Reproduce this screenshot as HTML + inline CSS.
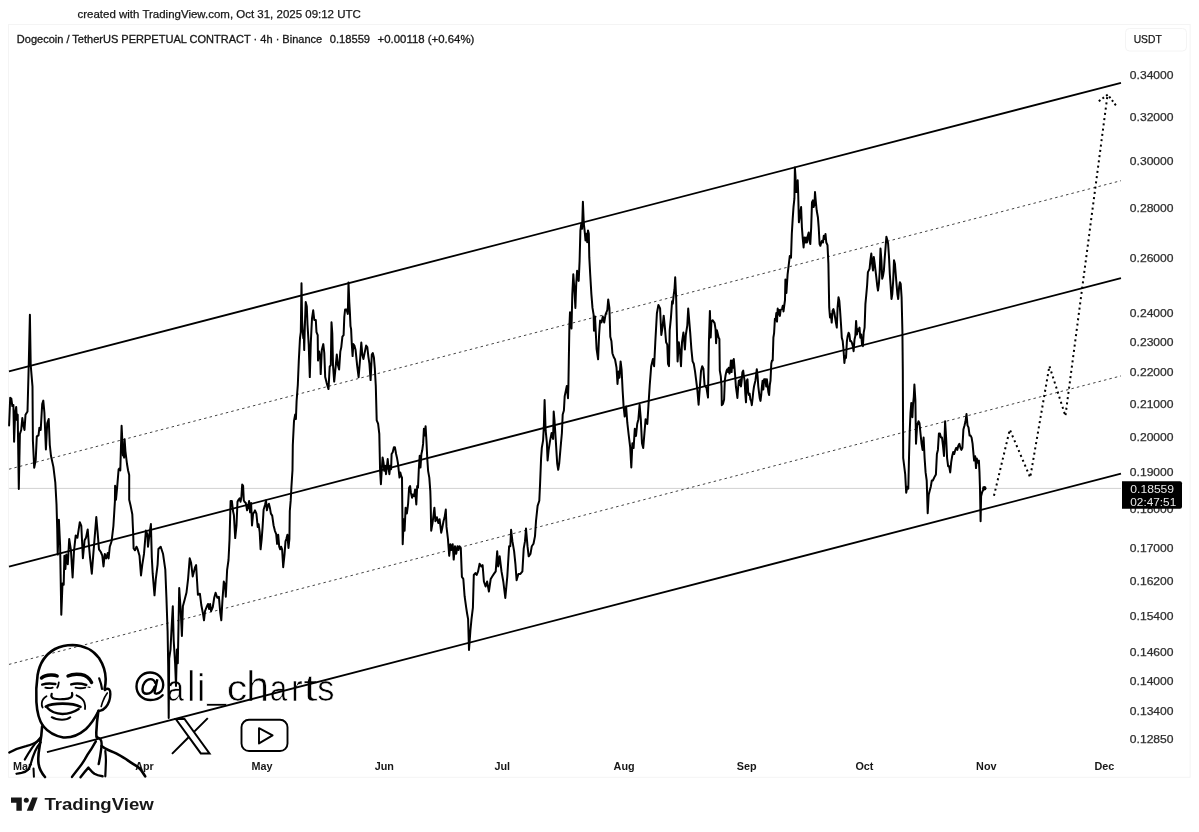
<!DOCTYPE html>
<html><head><meta charset="utf-8"><style>
html,body{margin:0;padding:0;background:#ffffff;width:1199px;height:832px;overflow:hidden}
svg{display:block;filter:grayscale(1)}
text{font-family:"Liberation Sans",sans-serif}
</style></head><body>
<svg width="1199" height="832" viewBox="0 0 1199 832">
<rect x="0" y="0" width="1199" height="832" fill="#ffffff"/>
<text x="77.5" y="18.3" font-size="11.3" fill="#131722" stroke="#131722" stroke-width="0.25" textLength="283.3" lengthAdjust="spacingAndGlyphs">created with TradingView.com, Oct 31, 2025 09:12 UTC</text>
<rect x="8.5" y="24.5" width="1181.6" height="752.8" fill="none" stroke="#f4f4f4" stroke-width="1"/>
<text x="16.8" y="42.8" font-size="10.9" fill="#131722" stroke="#131722" stroke-width="0.3" textLength="305.4" lengthAdjust="spacingAndGlyphs">Dogecoin / TetherUS PERPETUAL CONTRACT · 4h · Binance</text>
<text x="329.7" y="42.8" font-size="10.9" fill="#131722" stroke="#131722" stroke-width="0.3" textLength="40.4" lengthAdjust="spacingAndGlyphs">0.18559</text>
<text x="377.6" y="42.8" font-size="10.9" fill="#131722" stroke="#131722" stroke-width="0.3" textLength="96.8" lengthAdjust="spacingAndGlyphs">+0.00118 (+0.64%)</text>
<rect x="1125.5" y="28.5" width="61" height="22.5" rx="4" fill="#ffffff" stroke="#f4f4f4" stroke-width="1"/>
<text x="1133.7" y="43.3" font-size="11" fill="#131722" stroke="#131722" stroke-width="0.25" textLength="28" lengthAdjust="spacingAndGlyphs">USDT</text>
<text x="1129.8" y="79.1" font-size="10.9" fill="#2a2e39" stroke="#2a2e39" stroke-width="0.25" textLength="43.8" lengthAdjust="spacingAndGlyphs">0.34000</text>
<text x="1129.8" y="120.5" font-size="10.9" fill="#2a2e39" stroke="#2a2e39" stroke-width="0.25" textLength="43.8" lengthAdjust="spacingAndGlyphs">0.32000</text>
<text x="1129.8" y="164.5" font-size="10.9" fill="#2a2e39" stroke="#2a2e39" stroke-width="0.25" textLength="43.8" lengthAdjust="spacingAndGlyphs">0.30000</text>
<text x="1129.8" y="211.7" font-size="10.9" fill="#2a2e39" stroke="#2a2e39" stroke-width="0.25" textLength="43.8" lengthAdjust="spacingAndGlyphs">0.28000</text>
<text x="1129.8" y="262.2" font-size="10.9" fill="#2a2e39" stroke="#2a2e39" stroke-width="0.25" textLength="43.8" lengthAdjust="spacingAndGlyphs">0.26000</text>
<text x="1129.8" y="316.9" font-size="10.9" fill="#2a2e39" stroke="#2a2e39" stroke-width="0.25" textLength="43.8" lengthAdjust="spacingAndGlyphs">0.24000</text>
<text x="1129.8" y="345.9" font-size="10.9" fill="#2a2e39" stroke="#2a2e39" stroke-width="0.25" textLength="43.8" lengthAdjust="spacingAndGlyphs">0.23000</text>
<text x="1129.8" y="376.3" font-size="10.9" fill="#2a2e39" stroke="#2a2e39" stroke-width="0.25" textLength="43.8" lengthAdjust="spacingAndGlyphs">0.22000</text>
<text x="1129.8" y="408.1" font-size="10.9" fill="#2a2e39" stroke="#2a2e39" stroke-width="0.25" textLength="43.8" lengthAdjust="spacingAndGlyphs">0.21000</text>
<text x="1129.8" y="441.4" font-size="10.9" fill="#2a2e39" stroke="#2a2e39" stroke-width="0.25" textLength="43.8" lengthAdjust="spacingAndGlyphs">0.20000</text>
<text x="1129.8" y="476.4" font-size="10.9" fill="#2a2e39" stroke="#2a2e39" stroke-width="0.25" textLength="43.8" lengthAdjust="spacingAndGlyphs">0.19000</text>
<text x="1129.8" y="513.3" font-size="10.9" fill="#2a2e39" stroke="#2a2e39" stroke-width="0.25" textLength="43.8" lengthAdjust="spacingAndGlyphs">0.18000</text>
<text x="1129.8" y="552.3" font-size="10.9" fill="#2a2e39" stroke="#2a2e39" stroke-width="0.25" textLength="43.8" lengthAdjust="spacingAndGlyphs">0.17000</text>
<text x="1129.8" y="585.2" font-size="10.9" fill="#2a2e39" stroke="#2a2e39" stroke-width="0.25" textLength="43.8" lengthAdjust="spacingAndGlyphs">0.16200</text>
<text x="1129.8" y="619.8" font-size="10.9" fill="#2a2e39" stroke="#2a2e39" stroke-width="0.25" textLength="43.8" lengthAdjust="spacingAndGlyphs">0.15400</text>
<text x="1129.8" y="656.2" font-size="10.9" fill="#2a2e39" stroke="#2a2e39" stroke-width="0.25" textLength="43.8" lengthAdjust="spacingAndGlyphs">0.14600</text>
<text x="1129.8" y="684.9" font-size="10.9" fill="#2a2e39" stroke="#2a2e39" stroke-width="0.25" textLength="43.8" lengthAdjust="spacingAndGlyphs">0.14000</text>
<text x="1129.8" y="714.8" font-size="10.9" fill="#2a2e39" stroke="#2a2e39" stroke-width="0.25" textLength="43.8" lengthAdjust="spacingAndGlyphs">0.13400</text>
<text x="1129.8" y="743.4" font-size="10.9" fill="#2a2e39" stroke="#2a2e39" stroke-width="0.25" textLength="43.8" lengthAdjust="spacingAndGlyphs">0.12850</text>
<text x="22.5" y="769.6" font-size="10.8" font-weight="bold" fill="#131722" text-anchor="middle">Mar</text>
<text x="144.5" y="769.6" font-size="10.8" font-weight="bold" fill="#131722" text-anchor="middle">Apr</text>
<text x="262" y="769.6" font-size="10.8" font-weight="bold" fill="#131722" text-anchor="middle">May</text>
<text x="384.25" y="769.6" font-size="10.8" font-weight="bold" fill="#131722" text-anchor="middle">Jun</text>
<text x="502.25" y="769.6" font-size="10.8" font-weight="bold" fill="#131722" text-anchor="middle">Jul</text>
<text x="624.1" y="769.6" font-size="10.8" font-weight="bold" fill="#131722" text-anchor="middle">Aug</text>
<text x="746.6" y="769.6" font-size="10.8" font-weight="bold" fill="#131722" text-anchor="middle">Sep</text>
<text x="864.4" y="769.6" font-size="10.8" font-weight="bold" fill="#131722" text-anchor="middle">Oct</text>
<text x="986.3" y="769.6" font-size="10.8" font-weight="bold" fill="#131722" text-anchor="middle">Nov</text>
<text x="1104.3" y="769.6" font-size="10.8" font-weight="bold" fill="#131722" text-anchor="middle">Dec</text>
<g fill="#000" stroke="#fff" stroke-width="0.7" font-size="41.5">
<text transform="matrix(0.743 0 0 0.900 166.71 701.00)">a</text>
<text transform="matrix(0.875 0 0 1.023 187.28 700.80)">l</text>
<text transform="matrix(0.950 0 0 0.940 196.75 700.80)">i</text>
<text transform="matrix(0.820 0 0 1.000 207.22 697.90)">_</text>
<text transform="matrix(0.988 0 0 0.900 226.82 701.00)">c</text>
<text transform="matrix(0.988 0 0 1.023 246.14 700.80)">h</text>
<text transform="matrix(0.757 0 0 0.900 269.79 701.00)">a</text>
<text transform="matrix(0.840 0 0 0.891 290.98 700.80)">r</text>
<text transform="matrix(1.250 0 0 0.893 303.15 701.00)">t</text>
<text transform="matrix(0.829 0 0 0.900 317.14 701.00)">s</text>
</g>
<g fill="none" stroke="#000" stroke-width="2.4" stroke-linecap="round"><path d="M162.6 695.2 C159.5 698.5 155.3 700 150.5 700 C142.5 700 136.5 694 136.5 686.5 C136.5 678.5 142.5 672.5 150 672.5 C157.5 672.5 163.2 678 163.2 685 C163.2 689.5 160.5 693 156.8 693.6"/><path d="M155.4 683 C154.5 680.5 152.6 679.1 150.4 679.1 C146 679.1 142.5 684 142.5 689 C142.5 692 144.3 693.8 146.8 693.8 C150.3 693.8 153.2 690.6 154.6 686.8"/><path d="M157.3 679.3 L154.7 691.8 C154.5 693 155 693.8 156.6 693.6" stroke-linecap="butt"/></g>
<line x1="9" y1="488.4" x2="1121" y2="488.4" stroke="#d2d2d2" stroke-width="1"/>
<line x1="9" y1="371.3" x2="1121" y2="82.8" stroke="#000" stroke-width="1.8"/>
<line x1="9" y1="469.2" x2="1121" y2="180.7" stroke="#444" stroke-width="1.0" stroke-dasharray="2.5 3.1"/>
<line x1="9" y1="566.7" x2="1121" y2="278.2" stroke="#000" stroke-width="1.8"/>
<line x1="9" y1="664.4" x2="1121" y2="375.9" stroke="#444" stroke-width="1.0" stroke-dasharray="2.5 3.1"/>
<line x1="47" y1="752.2" x2="1121" y2="473.6" stroke="#000" stroke-width="1.8"/>
<path d="M9.1 425.5 L10.2 397.8 L11.3 398.5 L12.3 406 L13.4 405 L14.1 441.8 L15.2 412.6 L16.2 407 L16.9 420 L17.7 414.7 L18.8 489 L19.9 434 L21.2 430 L22.3 418 L23.4 425.5 L24.5 430 L25.5 414.7 L27.5 411.5 L28.8 362.8 L29.9 314.7 L30.7 365 L32.5 386.6 L32.9 440.7 L34.2 467.7 L35.7 460 L36.8 436.4 L38.5 435.3 L39.4 427.7 L40.7 430 L42.2 404 L43.3 400.6 L44.4 412.6 L45.9 449.4 L47.2 423.4 L48.7 419 L49.8 445 L51 456 L53.4 466.9 L55.3 482.5 L56.5 504 L57.2 528 L57.7 554.6 L58.9 519.8 L60.1 545 L61.3 614.7 L62.5 583.5 L63.7 584.7 L64.4 555.8 L65.4 569 L66.3 554.6 L67.8 564.2 L69.2 539 L70.9 549.8 L72.6 577.5 L74 551 L75.7 535.4 L77.4 537.8 L79.8 522.2 L81.3 525.8 L82.9 558.2 L84.6 540.2 L86 537.8 L87.7 529.4 L88.9 545 L90.1 558.2 L91.8 573.7 L93.2 555.7 L94.5 539.5 L96.3 517 L97.6 532.3 L99 549.4 L100.8 552 L102.3 555.7 L103.5 566.5 L104.8 553.9 L106.2 558.4 L107.7 553 L108.6 558.4 L109.8 546.7 L111.6 541.3 L113.4 526 L114.9 501.6 L115.1 485.7 L116 499.7 L117.3 485.7 L118.6 469.5 L119.5 468.4 L120.3 470.5 L121.1 442.4 L121.6 425.7 L122.4 442.4 L122.9 455.4 L123.6 451 L124.1 457.6 L124.6 439.2 L125.4 451 L127 464 L128.1 470.5 L129.2 474.9 L129.2 499.7 L130.5 505.2 L132.3 514.2 L133.2 534 L133.6 548.5 L135 550.3 L136.5 546.7 L137.7 549.4 L139.5 555.7 L141 575.5 L142.3 564.7 L144 553.9 L145.9 530.5 L147.3 534 L148 546.7 L149.5 534 L150.9 524.1 L151.8 557.5 L152.7 573.7 L154.5 595.3 L155.8 579.1 L157.6 564.7 L158.4 549 L160.7 546.8 L163 553.7 L165.3 569.7 L166.4 597 L167.6 631.3 L168.2 665.6 L168.7 718 L169.2 658.7 L170.5 649.6 L171.4 631.3 L172.8 606.2 L173.7 640.5 L175.1 663.3 L176 686 L176.9 649.6 L177.8 663.3 L179.2 588 L180.6 608.5 L181.9 635.9 L182.9 606.2 L184.7 599.4 L186.5 592.5 L188.1 578.8 L189.7 558.3 L191.1 562.8 L192.7 576.5 L195 567.4 L196.1 565.1 L197.9 594.8 L199.9 593.7 L201.3 605 L202.9 613.2 L204 620.3 L205 611.1 L206.6 607 L208 604 L209.1 609 L210.1 604 L211.1 611.1 L212.8 607 L214.2 597.8 L215.6 592.7 L217.3 597.8 L218.9 596.8 L220.3 613.2 L221.3 620.3 L222.4 600.9 L223.8 581.5 L225 584.5 L225.8 596.8 L227.1 570.2 L228.5 560 L229.5 540.1 L230.6 501.1 L231.9 501.1 L233 511 L233.9 515 L235.2 538.1 L236.5 525.5 L237.5 501.7 L238.5 499.8 L239.6 498.4 L240.5 501.7 L241.4 497.1 L242.2 484.5 L243.1 485.9 L243.8 500.4 L244.5 501.7 L245.8 503 L247.1 510.3 L248 507 L249.1 501.1 L250.1 512.3 L251.1 503 L252 525.5 L253.1 513.6 L254.1 512.3 L255 510.3 L256.4 513.6 L257.7 526.9 L258.6 524.2 L259.7 532.1 L260.6 549.3 L261.7 538.8 L262.6 526.9 L263.6 509.7 L265 505 L266 500.4 L266.9 510.3 L267.9 505.7 L268.9 503.7 L270 508.3 L270.9 513.6 L272.2 515.6 L273.6 525.5 L274.9 530.8 L276.2 534.1 L277.1 544 L278.2 534.8 L279.2 546.7 L280.2 549.3 L281.1 546.7 L282.1 549.3 L283.2 567.2 L284.5 554.6 L285.5 541.4 L286.4 538.8 L287.4 534.8 L288.5 548 L289.4 538.8 L289.8 511 L290.7 500.4 L291.4 487.2 L292.5 470 L292.8 445 L294 421 L295.2 414.5 L295.9 419 L296.6 401 L297.8 385 L298.8 360.6 L300 338.1 L300.8 332.1 L301.5 283.3 L302.1 320 L302.7 330.6 L303.3 338.1 L303.8 332.1 L304.2 350.1 L304.8 327.6 L305.7 302 L306.8 306.5 L307.5 324.5 L308.7 344.1 L309.8 377.1 L310.8 342.6 L312 318.5 L313.2 310.3 L314.3 320 L315.8 320 L316.5 332.1 L317.7 335.1 L318 360.6 L319.2 351.6 L320.3 359.1 L320.7 374.1 L321.8 350.1 L323.3 344.1 L324.3 353.1 L325.2 377.1 L326.7 383.1 L328.5 389.1 L329.7 366.6 L330.8 365.1 L331.5 322.3 L332.3 333.6 L333 365.1 L334.2 381.6 L335.8 365.1 L336.8 354.6 L337.9 365.1 L339.1 369.6 L340.3 351.6 L341.3 347.1 L342.4 336.6 L343.6 335.1 L344.3 317 L345.1 309.5 L346.6 309.5 L347.8 314 L348.5 282.5 L349.3 302 L349.9 312.5 L350.5 326.1 L351.1 329.1 L351.8 344.1 L352.6 356.1 L353.3 344.1 L354.4 345.6 L355.6 350.1 L357.1 365.1 L358.6 377.1 L360.1 359.1 L361.3 342.6 L362.3 354.6 L363.4 359.1 L364.6 353.1 L366.1 345.6 L367.3 347.1 L368.3 356.1 L369.4 363.6 L370.6 380.1 L371.8 354.6 L372.8 353.1 L373.9 357.6 L374.8 368.1 L375.8 386.1 L376.7 420.3 L378.1 423.7 L379.3 433.8 L380.1 470.8 L380.9 484.3 L381.8 469.2 L382.6 457.4 L383.5 462.4 L384.3 470.8 L385.2 465.8 L386 474.2 L386.8 467.5 L387.7 459.1 L388.5 467.5 L389.4 474.2 L390.2 465.8 L391.1 469.2 L391.6 454 L392.7 452.3 L393.9 447.3 L394.9 447.3 L396.1 454 L396.9 457.4 L397.8 462.4 L398.6 469.2 L399.5 477.6 L400.3 472.5 L401.2 475.9 L402 477.6 L402.7 544.2 L403.7 519.2 L404.6 530.8 L405.6 507.7 L406.9 513.5 L408.1 503.8 L409.1 487.7 L410.1 486 L410.9 492.7 L412.1 497.8 L412.9 494.4 L414.1 496.1 L415.1 489.4 L416.3 504.5 L417.2 486 L418 487.7 L418.8 469.2 L419.7 455.7 L420.5 467.5 L421.4 454 L422.2 450.6 L423.1 443.9 L423.9 428.7 L424.7 435.5 L425.6 426.2 L426.4 440.5 L427.3 459.1 L428.1 470.8 L429.3 477.6 L430.3 491.1 L430.6 500 L431.2 530.8 L432.5 523.1 L433.5 515.4 L434.4 507.7 L435.4 521.2 L436.9 517.3 L438.3 523.1 L439.6 519.2 L441.2 532.7 L442.1 528.8 L443.5 521.2 L444.6 517.3 L445.8 509.6 L446.5 526.9 L447.9 538.5 L449.2 555.8 L450.4 544.2 L451.3 550 L452.7 544.2 L453.7 559.6 L455 546.2 L456.2 553.8 L457.5 546.2 L458.5 550 L459.4 546.2 L460.8 548.1 L461.9 576.9 L463.3 578.8 L464.6 596.2 L466.2 607.7 L467.1 613.5 L468.1 619.2 L469 650 L470.4 630.8 L471.5 619.2 L472.9 607.7 L473.8 575 L475.4 573.1 L476.7 575 L478.1 571.4 L479.6 563.8 L481.3 566.4 L482.6 565.1 L483.9 581.5 L485.6 586.5 L487.1 581.5 L488.9 591.6 L490.7 579 L492.2 576.5 L493.9 573.9 L495.7 571.4 L497.2 551.2 L498.2 566.4 L499.7 556.3 L501.5 571.4 L503.3 581.5 L505.3 597.9 L507.3 576.5 L509.1 546.2 L510.3 546.2 L511.1 529.8 L512.4 541.2 L514.1 551.2 L515.4 563.8 L516.6 580.2 L518.4 573.9 L520.4 573.9 L522.4 571.4 L523.7 548.7 L525 541.2 L526 528.6 L527.5 546.2 L528.7 556.3 L530.5 553.8 L531.8 546.2 L533.5 543.7 L535 536.1 L536 521 L537.6 505.9 L539.3 500.8 L540.1 483.2 L541.1 458 L541.8 447.9 L543.1 440.3 L543.9 425.2 L544.6 400 L545.6 430.2 L546.9 442.9 L547.6 460.5 L548.6 450.4 L550 441.1 L551.6 433 L553.1 439.1 L553.7 411.5 L554.5 420.7 L555.7 439.1 L557.2 463.6 L558.2 469.8 L559.2 463.6 L560.6 447.3 L561.9 433 L562.7 414.5 L563.9 410.5 L564.7 396.1 L566 390 L566.8 385.9 L568 398.2 L568.4 385.9 L568.8 361.4 L569.4 326.6 L570 312.3 L571.5 328.6 L572.3 294.4 L573.3 274.2 L574.5 291.1 L575.4 307.9 L576.2 284.3 L577.1 270.8 L577.9 277.6 L578.7 280.9 L579.6 260.7 L580.4 230.4 L581.3 223.7 L582.1 228.7 L582.9 201.8 L583.8 223.7 L584.6 230.4 L585.5 240.5 L586.3 233.8 L587.2 242.2 L588 230.4 L588.8 233.8 L589.3 257.4 L590.2 274.2 L591.4 294.4 L592.5 307.9 L593.6 314.6 L594 330.7 L595 316.4 L596.6 349.1 L598.1 359.3 L599.1 334.8 L600.1 320.5 L601.5 322.5 L602.8 316.4 L604.2 322.5 L605.6 314.3 L607.3 310.2 L608.2 299.5 L609.4 307.9 L610.3 336.8 L611.4 340.9 L612.4 353.2 L613.8 357.3 L615 359.3 L616.5 367.5 L617.5 383.9 L618.5 371.6 L619.5 377.7 L620.6 361.4 L621.6 369.5 L622.6 390 L623.6 406.4 L624.7 416.6 L626.1 406.4 L627.3 422.7 L628.7 435 L630.2 447.3 L631.3 467.5 L632.4 443.2 L633.6 448.1 L634.8 428.8 L636 436 L637.2 424 L638.4 419.2 L639.6 404.7 L640.8 419.2 L642 443.2 L643.2 448.1 L644.4 433.6 L645.6 419.2 L647.3 424 L648.8 399.9 L649.7 385.5 L651.2 366.2 L652.9 359 L654.1 366.2 L655.3 342.2 L656.9 313.3 L658.4 304.9 L660.1 308.5 L661.3 335 L662.5 327.7 L663.7 315.7 L664.9 327.7 L666.1 342.2 L667.3 344.6 L668 363.8 L669 366.2 L669.7 330.2 L670.9 318.1 L672.1 301.3 L672.8 303.7 L673.8 294.1 L674.5 289.2 L675.2 277.2 L676.2 298.9 L676.9 330.2 L677.6 361.4 L678.8 342.2 L680 351.8 L681 366.2 L682 342.2 L683.4 332.6 L684.9 349.4 L685.8 335 L687.3 325.3 L688.2 308.5 L689 318.1 L690.2 332.6 L691.4 349.4 L692.6 361.4 L693.8 363.8 L695 371.1 L696.2 380.7 L697.4 390.3 L698.6 404.7 L699.8 387.9 L701 371.1 L702.2 366.2 L703.4 368.7 L704.6 385.5 L706.5 387.9 L708 397.5 L708.9 342.2 L709.9 310.9 L710.7 337.5 L711.4 321.6 L712.6 320.2 L713.6 321.6 L714.6 323.1 L715.5 328.8 L716.1 343.2 L716.9 330.3 L717.9 334.6 L718.6 337.5 L719.4 338.9 L719.8 370.6 L720.8 376.4 L721.5 386.5 L721.8 405.2 L723 403.8 L724.1 399.5 L724.8 380.7 L725.6 375 L726.6 370.6 L727.3 369.2 L728 372.1 L728.7 367.7 L729.5 373.5 L730.2 369.2 L730.9 360.5 L731.6 372.1 L732.3 360.5 L733.1 367.7 L733.8 359.1 L734.5 367.7 L735.2 376.4 L735.9 386.5 L736.7 392.3 L737.4 398 L738.1 387.9 L738.8 380.7 L739.5 385 L740.3 379.3 L741 386.5 L741.7 380.7 L742.4 372.1 L743.2 370.6 L743.9 376.4 L744.6 380.7 L745.3 393.7 L746 402.3 L746.8 380.7 L747.5 379.3 L748.2 392.3 L748.9 395.1 L749.6 393.7 L750.4 399.5 L751.1 400.9 L751.8 405.2 L752.5 399.5 L753.2 392.3 L754 386.5 L754.7 383.6 L755.4 380.7 L756.1 375 L756.8 369.2 L757.6 376.4 L758.3 386.5 L759 392.3 L759.7 398 L760.5 400.9 L761.2 395.1 L761.9 386.5 L762.6 380.7 L763.3 389.4 L764.1 379.3 L764.8 382.2 L765.5 379.3 L766.2 386.5 L766.9 379.3 L767.7 386.5 L768.4 392.3 L769.1 395.1 L769.8 385 L770.5 380.7 L771.3 363.4 L772 360.5 L772.7 360.5 L773.4 337.5 L774.1 333.2 L774.9 318.7 L775.6 320.2 L776.3 313 L777 321.6 L777.7 308.6 L778.5 314.4 L779.2 310.1 L779.9 315.9 L780.6 310.1 L782.1 308.6 L782.8 305.8 L783.5 311.5 L784.2 305.8 L785 300 L785.4 279.5 L786.4 292.9 L787.6 274.4 L788.8 264.3 L789.8 255.9 L791 257.6 L791.8 234 L792.7 218.9 L793.5 207.1 L794.4 198.7 L794.9 167.6 L795.5 176.8 L796 192 L796.9 192 L797.7 180.2 L798.2 193.7 L798.9 222.3 L799.9 215.5 L801.1 207.1 L801.9 227.3 L802.8 239.1 L803.6 247.5 L804.4 237.4 L805.3 242.5 L806.1 237.4 L807 242.5 L807.8 235.7 L808.7 232.4 L809.5 240.8 L810.3 244.1 L811.2 227.3 L812 202.1 L812.9 200.4 L813.7 207.1 L814.5 203.7 L815 192 L815.7 200.4 L816.7 210.5 L817.9 217.2 L818.7 227.3 L819.6 244.1 L820.4 245.8 L821.3 242.5 L822.1 240.8 L823 242.5 L823.8 235.7 L824.6 239.1 L825.5 234 L826.3 242.5 L827.5 245.1 L828.4 263.7 L829.2 307.4 L830 317.5 L830.9 314.2 L831.7 322.6 L832.6 310.8 L833.4 309.1 L834.3 312.5 L835.1 317.5 L835.9 322.6 L836.8 327.6 L837.6 307.4 L838.5 297.3 L839.3 300.7 L840.1 310.8 L841 324.3 L841.8 337.7 L842.7 341.1 L843.5 349.5 L844.4 363 L845.2 356.2 L846 357.9 L846.9 341.1 L847.7 336 L848.6 332.7 L849.4 334.4 L850.2 341.1 L851.1 341.1 L851.9 342.8 L852.8 346.1 L853.6 351.2 L854.5 339.4 L855.3 336 L856.1 320.9 L857 334.4 L857.8 329.3 L858.7 331 L859.5 327.6 L860.3 337.7 L861.2 334.4 L862 344.5 L862.9 346.1 L863.7 332.7 L864.6 327.6 L865.4 304.1 L866.2 295.6 L867.1 285.5 L867.9 272.1 L868.8 270.4 L869.6 268.7 L870.4 260.3 L871.3 253.6 L872.1 263.7 L873 270.4 L873.8 256.9 L874.7 263.7 L875.5 270.4 L876.3 277.1 L877.2 285.5 L878 290.6 L878.9 283.9 L879.7 272.1 L880.5 248.5 L881.4 260.3 L882.2 278.8 L883.1 275.4 L883.9 270.4 L884.8 256.9 L885.6 246.8 L886.4 236.7 L887.3 240.1 L888.1 243.5 L889 256.9 L889.8 273.8 L890.6 285.5 L891.5 299 L892.3 294 L893.2 280.5 L894 260.3 L894.9 263.7 L895.7 273.8 L896.5 283.9 L897.4 294 L898.2 299 L899.1 287.2 L899.9 282.2 L900.7 283.9 L901.6 297.3 L902.4 331 L902.8 369.7 L903.2 458.1 L904.2 466.2 L905.2 474.4 L906.2 492.8 L907.3 486.7 L908.3 488.7 L908.9 462.1 L909.7 431.5 L910.5 413.1 L911.3 402.9 L912.4 417.2 L913 404.9 L913.8 396.8 L914.4 384.5 L915.4 400.9 L916 443.8 L917.1 425.4 L918.5 421.3 L919.5 423.3 L920.5 433.5 L921.6 443.8 L922.6 449.9 L923.6 437.6 L924.6 458.1 L925.6 472.4 L926.7 480.5 L927.7 513.2 L928.7 494.8 L929.7 490.7 L930.8 486.7 L931.8 480.5 L932.8 480.5 L933.8 478.5 L934.8 476.4 L935.9 474.4 L936.9 454 L937.9 449.9 L938.9 433.5 L939.9 433.5 L941 437.6 L942 437.6 L943 445.8 L944 456 L945.1 421.3 L946.1 437.6 L947.1 458.1 L948.1 466.2 L949.1 466.2 L950.2 472.4 L951.2 462.1 L952.2 456 L953.2 451.9 L954.2 454 L955.3 449.9 L956.3 447.8 L957.3 449.9 L958.3 445.8 L959.4 443.8 L960.4 447.8 L961.4 449.9 L962.4 447.8 L963.4 429.5 L964.5 425.4 L965.5 421.3 L966.5 414.1 L967.5 425.4 L968.5 427.4 L969.6 435.6 L970.6 435.6 L971.6 437.6 L972.6 443.8 L973 448.7 L974.1 460.6 L975.2 456.2 L976 468.1 L976.8 458.4 L977.9 462.7 L978.9 460.6 L979.5 472.5 L980 488.7 L980.6 521.2 L981.1 496.3 L982.2 492 L983.3 489.8 L984.4 488.2" fill="none" stroke="#000" stroke-width="2.0" stroke-linejoin="round" stroke-linecap="round"/>
<circle cx="984.3" cy="488.2" r="2.2" fill="#000"/>
<path d="M994.2 494.8 L1009.8 429.6 L1030.2 477.5 L1049.4 366 L1065.4 416 L1107.6 94.4" fill="none" stroke="#000" stroke-width="2" stroke-dasharray="0.01 5.3" stroke-linecap="square"/>
<path d="M1099.6 100.6 L1107.8 94.6 L1115.6 105" fill="none" stroke="#000" stroke-width="2" stroke-dasharray="0.01 4.5" stroke-linecap="square"/>
<path d="M1122 481.3 H1180 a2 2 0 0 1 2 2 V506.7 a2 2 0 0 1 -2 2 H1122 Z" fill="#000"/>
<text x="1130.3" y="492.8" font-size="10.6" fill="#e8e8e8" textLength="43.8" lengthAdjust="spacingAndGlyphs">0.18559</text>
<text x="1130.3" y="505.6" font-size="10.6" fill="#e8e8e8" textLength="45.9" lengthAdjust="spacingAndGlyphs">02:47:51</text>
<g fill="#131722"><path d="M11 797.5 H21.8 V810.8 H16.4 V802.7 H11 Z"/><circle cx="26.3" cy="800.2" r="2.5"/><path d="M32.3 797.6 H37.7 L32.8 810.8 H26.8 Z"/></g>
<text x="44.4" y="810.4" font-size="17.4" font-weight="bold" fill="#131722" textLength="109.4" lengthAdjust="spacingAndGlyphs">TradingView</text>
<g fill="none" stroke="#000" stroke-linecap="round" stroke-linejoin="round">
<!-- head outline: left side + top + right side -->
<path stroke-width="2.6" d="M43.1 726 C39.5 721 37 712 36.4 702 C35.9 693 36.3 684 37.6 675 C39.6 663 46 654 55 649 C61 646 67 645 72.5 645 C83 645.3 93 650 99 658 C103.5 665 105.6 672 105.7 679 C105.7 684 105 687 104.6 689"/>
<!-- jaw -->
<path stroke-width="2.6" d="M43.1 726 C48 732 55 736 63.3 737.5 C71 738 79 735 86 729 C91 724 95 718 98 712"/>
<!-- temple line -->
<path stroke-width="2.2" d="M99.2 678.4 C100.6 682 101.6 685.5 102 689"/>
<!-- ear -->
<path stroke-width="2.4" d="M104.8 690 C106 689 108 688.5 109.3 689.5 C110.8 691 110.6 697 109.2 701 C107.5 706 104.5 709.5 100.5 710.6 C99.6 710.8 99 710.8 98.5 710.6"/>
<path stroke-width="1.6" d="M107.3 693 C105 696 103.5 699.5 102.6 702 C102 704 101.5 705.5 101.2 706.5"/>
<!-- eyebrows -->
<path stroke-width="3.4" d="M41.5 678 C44 675.5 48 674.8 52 675 C54.5 675.1 56 675.5 57.2 676"/>
<path stroke-width="3.4" d="M68 676 C71 674.5 76 673.8 81 674.5 C86 675.3 89.5 678 91.6 682.5"/>
<!-- eyes -->
<path stroke-width="2.4" d="M42.2 684.6 C46 683.3 51 683.2 55.4 684"/>
<path stroke-width="1.8" d="M45.3 687.7 C48 688.4 50.5 688.4 52.7 687.6"/>
<path stroke-width="2.4" d="M71.2 684.4 C75 683.3 81 683.4 86.3 685"/>
<path stroke-width="1.8" d="M75.5 687.7 C79 688.4 82.5 688.4 85.3 687.6"/>
<path stroke-width="1.2" d="M88 687 L90 687.4"/>
<!-- nose -->
<path stroke-width="1.8" d="M58.8 682.5 C58.6 684.5 58 686.5 57.2 687.8"/>
<path stroke-width="2.2" d="M51.7 693.8 C50.8 696 51.8 698.2 54.5 698.8 C57 699.3 60 699.4 62.5 699 C66 699.2 69 698.8 71 697.4 C72.3 696.2 72.5 694.5 72 693"/>
<!-- smile lines -->
<path stroke-width="1.8" d="M46.5 696.2 C43.5 698 42 700.5 41.8 703 C41.6 705 41.9 706.5 42.6 707.5"/>
<path stroke-width="1.8" d="M76.5 695.3 C80.5 697 83.5 699.5 84.4 702.5 C85.2 705 85.3 707 85 709"/>
<!-- mouth -->
<path stroke-width="2.6" d="M45.8 706.6 C49 704.6 55 703.6 62.5 703.6 C70 703.6 76.5 704.6 80.5 706.8"/>
<path stroke-width="2.4" d="M47.3 707.8 C50 711 56 713.8 62.5 714 C69.5 713.8 74.5 711.8 78.7 709"/>
<!-- chin -->
<path stroke-width="2" d="M51.7 717.2 C54.5 719 58.5 719.8 62 719.8 C65.5 719.8 68.5 718.8 70.3 717.3"/>
<!-- neck left -->
<path stroke-width="2.6" d="M42.1 726.5 C41.8 733 40.8 740 39.6 746.5 C38.4 753 37.8 759 38.6 764 C39.4 769.5 42 773.5 45 777"/>
<!-- neck right -->
<path stroke-width="2.6" d="M98.3 711.3 C97.3 718 96.6 726 96.3 732.5 C96.2 735 96.4 736.8 96.9 737.6"/>
<!-- left shoulder -->
<path stroke-width="2.4" d="M9.3 752.5 C14 750 20 747.6 26 746.2 C31 744.8 35 743.5 37.5 741 C39 739.5 40 738.5 40.7 737.5"/>
<!-- left collar lines -->
<path stroke-width="2.2" d="M40.7 738.5 C37 741.5 34.5 744 32.5 747.1 C29.5 751.5 27 755.5 24.8 759.6"/>
<path stroke-width="2.2" d="M40.7 742.3 C38.5 745 36.5 748 35.2 751 C33.5 755 32.2 758.5 31.3 762 C30.4 765.5 29.5 768 28.2 769.6 C26.5 771.3 24.5 772.3 21.5 772.8 C19 773.1 17.5 773.5 16.5 773.8"/>
<path stroke-width="2" d="M33.5 768.4 C33.7 771.5 33.8 774 33.9 776.8"/>
<!-- right collar -->
<path stroke-width="2.4" d="M96.6 736.8 C98.5 737.5 100.3 738.6 101 740.2 C101.8 742 101.7 745.5 101.2 749 C100.6 754 99.8 759 98.7 764"/>
<!-- shirt opening right -->
<path stroke-width="2.4" d="M95.8 741.3 C94 744.5 92.5 747.3 90.8 749.8 C88.5 753 86.5 756.3 84.8 759.4 C83 762.5 81.2 765 79.6 767 C76.5 771 74 774 72 776.9"/>
<!-- V collar -->
<path stroke-width="2.4" d="M80.5 777.2 C83 774 85.8 770.5 88.4 767.6 C90 769.5 92 772 94.4 773.8 C97 775.3 100 775.9 102.6 776.3"/>
<!-- right shoulder -->
<path stroke-width="2.6" d="M101.6 746 C103.5 747.5 105.5 748.8 107.7 749.8 C110.5 751 113.5 752 116.1 753.4 C120 755.5 124.5 758 128.1 760.6 C131.5 763 135 765 137.7 766.8 C140.5 769 143 772.5 145.2 776.4"/>
<!-- right collar outer -->
<path stroke-width="2.2" d="M105.3 751 C105.7 754.5 106 758 105.9 761.8 C105.8 766 105.5 771 105.3 776.3"/>
</g>
<!-- X logo -->
<g fill="none" stroke="#000" stroke-width="2" stroke-linejoin="miter">
<path d="M175.8 719 H184.5 L209.5 753.4 H200.8 Z"/>
<path d="M207.8 718.1 L194 731.9 M188.85 737.05 L172 753.9"/>
</g>
<!-- YouTube icon -->
<g fill="none" stroke="#000" stroke-width="1.9">
<rect x="241.5" y="719.8" width="46" height="31.2" rx="7.5"/>
<path d="M259 728.2 L272.6 735.4 L259 743.4 Z" stroke-linejoin="round"/>
</g>
</svg>
</body></html>
